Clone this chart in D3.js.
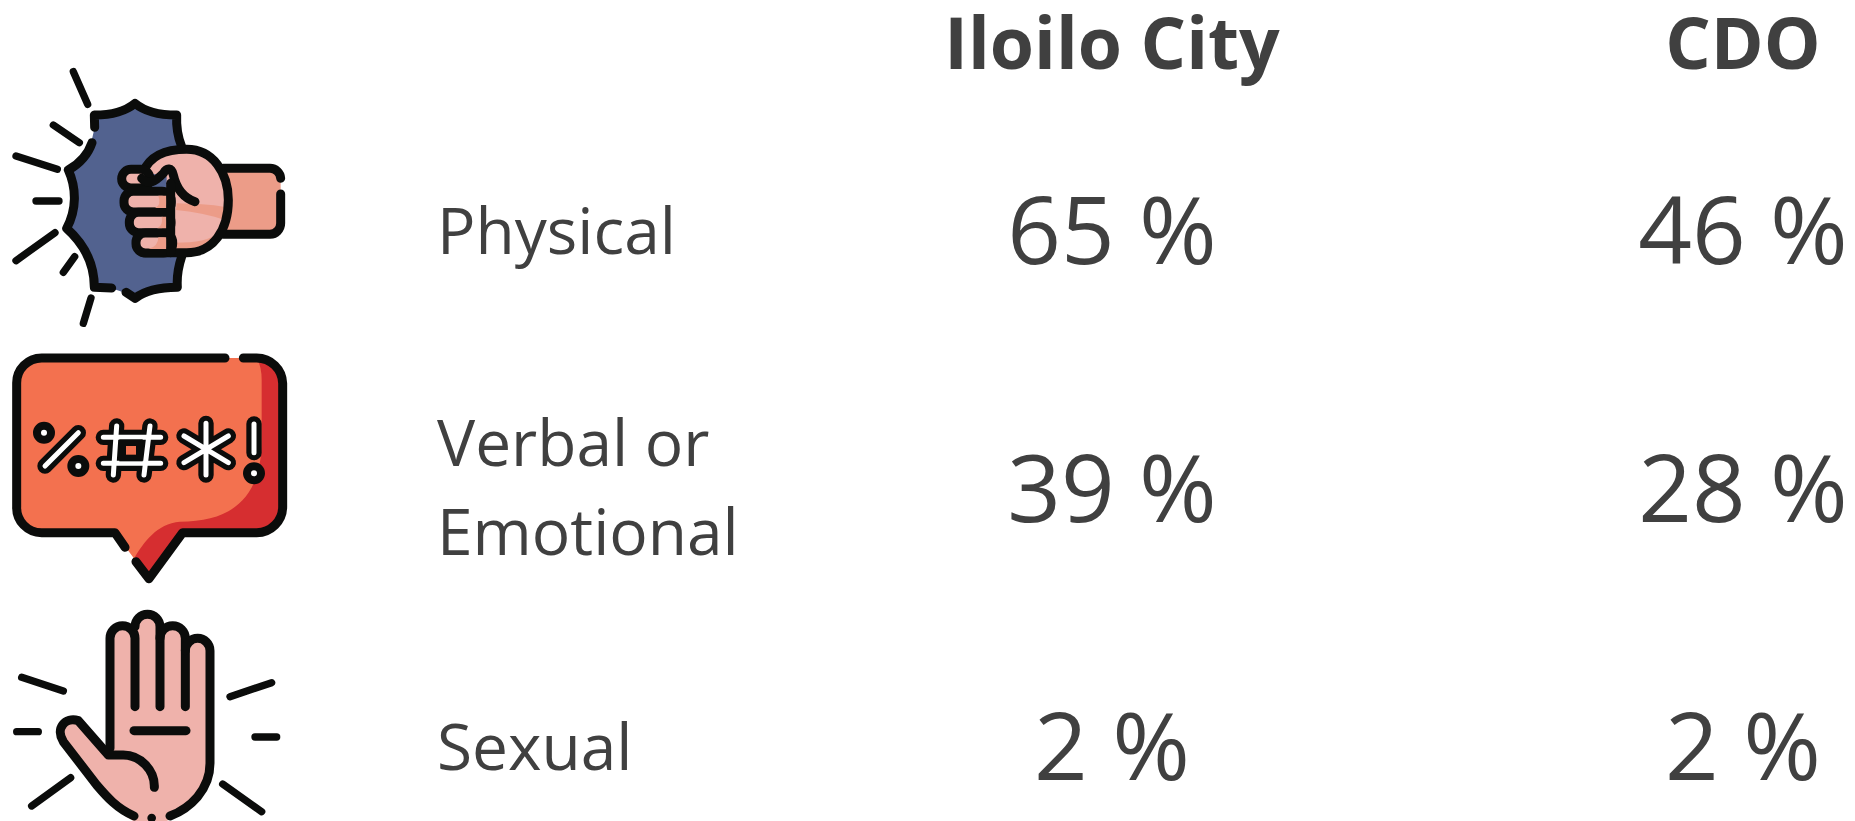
<!DOCTYPE html>
<html>
<head>
<meta charset="utf-8">
<title>Violence by type</title>
<style>
  html, body { margin: 0; padding: 0; background: #fff; }
  svg { display: block; }
  text { font-family: "Open Sans", sans-serif; fill: #404040; }
  .ink { fill: none; stroke: #0b0c0b; stroke-width: 27; stroke-linecap: round; stroke-linejoin: round; }
</style>
</head>
<body>
<div id="chart"></div>
<script src="https://cdnjs.cloudflare.com/ajax/libs/d3/7.8.5/d3.min.js"></script>
<script>
var categories = ["Physical", "Verbal or|Emotional", "Sexual"];
var cities = ["Iloilo City", "CDO"];
var iloiloValues = [65, 39, 2];
var cdoValues = [46, 28, 2];

var width = 1855, height = 821;

var svg = d3.select("#chart").append("svg")
  .attr("width", width)
  .attr("height", height);

// column centres and row baselines
var x = d3.scalePoint().domain(cities).range([1112, 1743]);
var y = d3.scalePoint().domain(categories).range([264, 780]);

// header
svg.selectAll(".head")
  .data(cities)
  .enter().append("text")
  .attr("class", "head")
  .attr("x", function(d) { return x(d); })
  .attr("y", 69)
  .attr("text-anchor", "middle")
  .attr("font-size", 71.5)
  .attr("font-weight", "bold")
  .text(function(d) { return d; });

// row labels
var labels = svg.selectAll(".label")
  .data(categories)
  .enter().append("text")
  .attr("class", "label")
  .attr("x", 437)
  .attr("font-size", 64);

labels.selectAll("tspan")
  .data(function(d) {
    var lines = d.split("|");
    return lines.map(function(t, i) { return { t: t, i: i, n: lines.length, cat: d }; });
  })
  .enter().append("tspan")
  .attr("x", 437)
  .attr("y", function(d) {
    if (d.n == 1) return y(d.cat) - 10;
    return y(d.cat) - 56 + d.i * 89;
  })
  .text(function(d) { return d.t; });

// values
[iloiloValues, cdoValues].forEach(function(vals, c) {
  svg.selectAll(".val" + c)
    .data(vals)
    .enter().append("text")
    .attr("class", "val" + c)
    .attr("x", x(cities[c]))
    .attr("y", function(d, i) { return y(categories[i]); })
    .attr("text-anchor", "middle")
    .attr("font-size", 94)
    .text(function(d) { return d + " %"; });
});

// icons, drawn in the 3x coordinates of the crops
function icon(tx, ty) {
  return svg.append("g").attr("transform", "translate(" + tx + "," + ty + ") scale(" + (1 / 3) + ")");
}
function fill(g, col, d) { g.append("path").attr("fill", col).attr("d", d); }
function ink(g, d, w) {
  var p = g.append("path").attr("class", "ink").attr("d", d);
  if (w) p.style("stroke-width", w);
  return p;
}

// fist
var fist = icon(0, 50);
fill(fist, "#52628f", "M283,195 C330,195 375,185 405,160 C435,185 480,195 530,195 C528,240 535,270 548,295 L548,620 C535,650 530,680 530,712 C480,712 435,722 405,748 C375,722 330,712 283,712 C283,640 250,580 205,535 C230,480 230,415 205,360 C245,340 270,310 283,235 Z");
ink(fist, "M284,232 L283,195 C330,195 375,185 405,160 C435,185 480,195 530,195 C528,240 535,265 545,290");
ink(fist, "M276,278 C265,310 240,340 205,360 C230,415 230,480 200,535 C250,580 283,640 283,712 L335,714");
ink(fist, "M378,727 L405,745 C435,722 480,712 532,712 C530,680 535,650 545,620");
fill(fist, "#ec9c88", "M660,355 L815,355 Q842,355 842,385 L842,525 Q842,553 815,553 L660,553 Z");
ink(fist, "M670,355 L810,355 A32,32 0 0 1 842,385");
ink(fist, "M842,432 L842,520 A33,33 0 0 1 810,553 L670,553");
fill(fist, "#efb2ab", "M430,365 C450,320 490,298 560,298 C640,298 685,370 685,450 C685,540 640,608 560,608 L500,608 L500,380 Z");
fill(fist, "#ec9c88", "M530,460 C580,462 630,462 680,472 L682,512 C630,495 580,485 528,480 Z M525,578 C590,578 630,570 660,545 C640,590 600,608 560,608 L520,608 Z");
ink(fist, "M430,365 C450,320 490,298 560,298 C640,298 685,370 685,450 C685,540 640,608 560,608 L430,608");
// fingers
var fingers = [[365, 358, 85, 56], [372, 424, 142, 62], [388, 487, 125, 61], [408, 549, 110, 60]];
fist.selectAll(".f").data(fingers).enter().append("rect")
  .attr("x", function(d) { return d[0]; })
  .attr("y", function(d) { return d[1]; })
  .attr("width", function(d) { return d[2]; })
  .attr("height", function(d) { return d[3]; })
  .attr("rx", 28)
  .attr("fill", "#efb2ab")
  .attr("stroke", "#0b0c0b")
  .attr("stroke-width", 27);
fill(fist, "#ec9c88", "M475,437 L500,437 L500,474 L465,474 Q485,465 475,437 Z M485,500 L500,500 L500,535 L472,535 Q490,525 485,500 Z M475,562 L500,562 L500,597 L445,597 Q475,590 475,562 Z");
ink(fist, "M425,385 C445,408 465,395 490,370 C500,352 515,352 520,375 C530,420 555,445 585,455");
ink(fist, "M512,400 L512,608");
ink(fist, "M220,65 L263,163", 22);
ink(fist, "M160,225 L238,278", 22);
ink(fist, "M48,318 L172,358", 22);
ink(fist, "M108,453 L177,453", 22);
ink(fist, "M165,548 L48,632", 22);
ink(fist, "M224,620 L190,667", 22);
ink(fist, "M273,744 L250,820", 22);

// speech bubble
var bubble = icon(0, 340);
var bubbleShape = "M125,54 L770,54 A78,78 0 0 1 848,130 L848,500 A78,78 0 0 1 770,578 L548,578 L447,716 L345,578 L125,578 A75,75 0 0 1 50,500 L50,130 A75,75 0 0 1 125,54 Z";
fill(bubble, "#f3714f", bubbleShape);
fill(bubble, "#d62e30", "M770,54 A78,78 0 0 1 848,130 L848,500 A78,78 0 0 1 770,578 L548,578 L447,716 L405,650 C430,610 470,550 540,545 C700,545 785,470 785,300 L785,120 Q785,80 770,54 Z");
ink(bubble, "M675,54 L125,54 A75,75 0 0 0 50,130 L50,500 A75,75 0 0 0 125,578 L345,578 L375,622");
ink(bubble, "M408,665 L447,716 L548,578 L770,578 A78,78 0 0 0 848,500 L848,130 A78,78 0 0 0 770,54 L730,54");
// symbols, black outline under white core
function symbol(d) {
  ink(bubble, d, 46);
  bubble.append("path").attr("d", d).attr("fill", "none").attr("stroke", "#fff").attr("stroke-width", 15).attr("stroke-linecap", "round");
}
symbol("M235,278 L135,378");
symbol("M350,258 L340,405 M450,258 L432,405 M310,292 L482,292 M310,370 L482,370");
symbol("M618,250 L618,405 M552,288 L685,368 M685,288 L552,368");
symbol("M762,252 L762,338");
bubble.selectAll(".dot").data([[132, 278], [235, 378], [762, 400]]).enter().append("circle")
  .attr("cx", function(d) { return d[0]; })
  .attr("cy", function(d) { return d[1]; })
  .attr("r", 21)
  .attr("fill", "#fff")
  .attr("stroke", "#0b0c0b")
  .attr("stroke-width", 24);
bubble.append("rect").attr("x", 368).attr("y", 308).attr("width", 50).attr("height", 46).attr("fill", "#f3714f").attr("stroke", "#0b0c0b").attr("stroke-width", 20);

// hand
var hand = icon(0, 600);
fill(hand, "#efb2ab", "M330,115 A37,37 0 0 1 405,100 L405,80 A37,37 0 0 1 480,80 L480,115 A38,38 0 0 1 556,115 L556,152 A37,37 0 0 1 630,152 L630,490 C630,570 570,640 500,663 L400,663 C340,630 310,590 280,550 L190,425 C165,385 195,355 225,360 L330,465 Z");
ink(hand, "M330,445 L330,115 A37,37 0 0 1 405,115 L405,320");
ink(hand, "M405,80 A37,37 0 0 1 480,80 L480,320");
ink(hand, "M480,115 A38,38 0 0 1 556,115 L556,320");
ink(hand, "M556,152 A37,37 0 0 1 630,152 L630,490 C630,570 570,625 510,648");
ink(hand, "M402,648 C350,625 320,590 290,555 L190,425 C165,385 195,350 235,362 L325,465 L370,465 C420,465 465,510 463,562");
ink(hand, "M402,392 L558,392");
hand.append("circle").attr("cx", 455).attr("cy", 654).attr("r", 13).attr("fill", "#0b0c0b");
ink(hand, "M65,232 L190,273", 22);
ink(hand, "M815,248 L690,290", 22);
ink(hand, "M50,395 L115,395", 22);
ink(hand, "M765,411 L830,411", 22);
ink(hand, "M212,533 L95,618", 22);
ink(hand, "M668,552 L785,635", 22);
</script>
</body>
</html>
